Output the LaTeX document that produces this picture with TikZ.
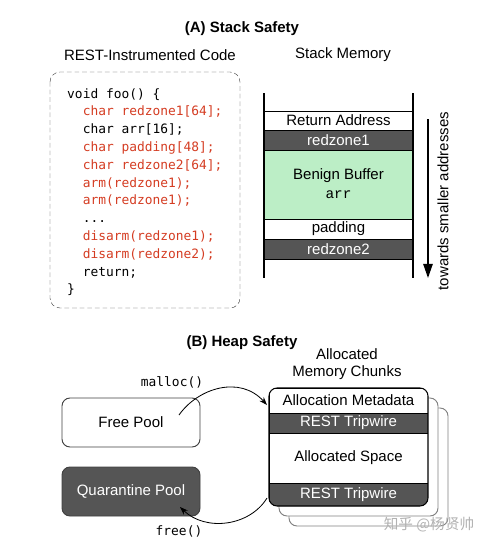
\documentclass[tikz,border=0pt]{standalone}
\usepackage{fontspec}
\setmainfont{Liberation Sans}
\setmonofont{DejaVu Sans Mono}
\newfontfamily\cwfont{Liberation Mono}
\newfontfamily\cjkfont{Noto Sans CJK SC}
\usepackage{xcolor}
\usetikzlibrary{arrows.meta, math, positioning}
\definecolor{mydark}{RGB}{85,85,85}
\definecolor{mygreen}{RGB}{188,238,198}
\definecolor{myred}{RGB}{212,60,34}
\newcommand{\pxu}{0.03cm}
\tikzset{
  lbl/.style={font=\fontsize{12.8}{15}\selectfont, inner sep=0pt},
  head/.style={font=\fontsize{12.8}{15}\selectfont\bfseries, inner sep=0pt},
  codetxt/.style={font=\fontsize{11}{15.2}\ttfamily, inner sep=0pt, align=left},
  pool/.style={lbl, draw=black!75, line width=0.8pt, rounded corners=8*\pxu,
    minimum width=138*\pxu, minimum height=49*\pxu},
  flow/.style={-{Stealth[length=7pt,width=5pt]}, line width=0.7pt},
}

\begin{document}
\begin{tikzpicture}[x=0.03cm, y=-0.03cm]
\tikzmath{
\stL=264; \stR=413;
\chL=269; \chR=428;
\shf=10;
}
%stack walls at \stL,\stR; chunk edges at \chL,\chR
\useasboundingbox (0,0) rectangle (487,547);

%titles
\node[head] (titleA) at (242,29) {(A) Stack Safety};
\node[lbl] (codeT) at (150,55) {REST-Instrumented Code};
\node[lbl] (stackT) at (343,55) {Stack Memory};

%code box
\draw[draw=black!75, dash pattern=on 4pt off 2.5pt, rounded corners=10*\pxu] (50,72) rectangle (240,308);
\node[codetxt, anchor=north west] (code) at (67,88) {void foo() \{\\
\ \ \textcolor{myred}{char redzone1[64];}\\
\ \ char arr[16];\\
\ \ \textcolor{myred}{char padding[48];}\\
\ \ \textcolor{myred}{char redzone2[64];}\\
\ \ \textcolor{myred}{arm(redzone1);}\\
\ \ \textcolor{myred}{arm(redzone1);}\\
\ \ ...\\
\ \ \textcolor{myred}{disarm(redzone1);}\\
\ \ \textcolor{myred}{disarm(redzone2);}\\
\ \ return;\\
\}};

%stack frame
\foreach \ya/\yb/\fc/\tc/\txt [count=\i] in {111/130/white/black/Return Address,
    130/150/mydark/white/redzone1, 150/219/mygreen/black/{},
    219/239/white/black/padding, 239/259/mydark/white/redzone2}{
  \draw[fill=\fc, line width=0.8pt] (\stL,\ya) rectangle (\stR,\yb);
  \node[lbl, text=\tc] (row\i) at ({(\stL+\stR)/2},{(\ya+\yb)/2}) {\txt};
}
\node[lbl] (benign) at ({(\stL+\stR)/2},176) {Benign Buffer};
\node[font=\cwfont\fontsize{12.3}{14}\selectfont, inner sep=0pt] (arr) at ({(\stL+\stR)/2},195) {arr};
\draw[line width=1.2pt] (\stL,93) -- (\stL,278);
\draw[line width=1.2pt] (\stR,93) -- (\stR,278);

%direction of growth
\coordinate (gTop) at (428,119);
\coordinate (gBot) at (428,278);
\draw[-{Triangle[length=12pt,width=8pt]}, line width=1.2pt] (gTop) -- (gBot);
\node[lbl, rotate=90] (dirT) at (443,201) {towards smaller addresses};

%heap part
\node[head] (titleB) at (242,343) {(B) Heap Safety};
\node[lbl, align=center] (chunkT) at (347,364) {Allocated\\Memory Chunks};

\node[pool, fill=white] (free) at (131,422.5) {Free Pool};
\node[pool, fill=mydark, text=white] (quar) at (131,491.5) {Quarantine Pool};

%chunks behind
\foreach \k in {2,1}
  \draw[draw=black!50, fill=white, line width=0.8pt, rounded corners=8*\pxu]
    (\chL+\k*\shf,388+\k*\shf) rectangle (\chR+\k*\shf,506+\k*\shf);

%front chunk
\begin{scope}
\clip[rounded corners=8*\pxu] (\chL,388) rectangle (\chR,506);
\foreach \ya/\yb/\fc/\tc/\txt [count=\i] in {388/413/white/black/Allocation Metadata,
    413/433/mydark/white/REST Tripwire, 433/483/white/black/Allocated Space,
    483/506/mydark/white/REST Tripwire}{
  \draw[fill=\fc, line width=0.8pt] (\chL,\ya) rectangle (\chR,\yb);
  \node[lbl, text=\tc] (chunk\i) at ({(\chL+\chR)/2},{(\ya+\yb)/2}) {\txt};
}
\end{scope}
\draw[line width=0.9pt, rounded corners=8*\pxu] (\chL,388) rectangle (\chR,506);

%malloc / free
\coordinate (mA) at (179,415);
\coordinate (mB) at (267,405);
\coordinate (fA) at (267,498);
\coordinate (fB) at (180,507);
\draw[flow] (mA) .. controls (198,388) and (240,375) .. (mB);
\draw[flow] (fA) .. controls (250,526) and (206,532) .. (fB);
\node[codetxt] (mallocT) at (172,382) {malloc()};
\node[codetxt] (freeT) at (179,531) {free()};

\node[text=black!30, font=\cjkfont\fontsize{12.5}{14}\selectfont, inner sep=0pt] (mark) at (429,525) {知乎 @杨贤帅};
\end{tikzpicture}
\end{document}
